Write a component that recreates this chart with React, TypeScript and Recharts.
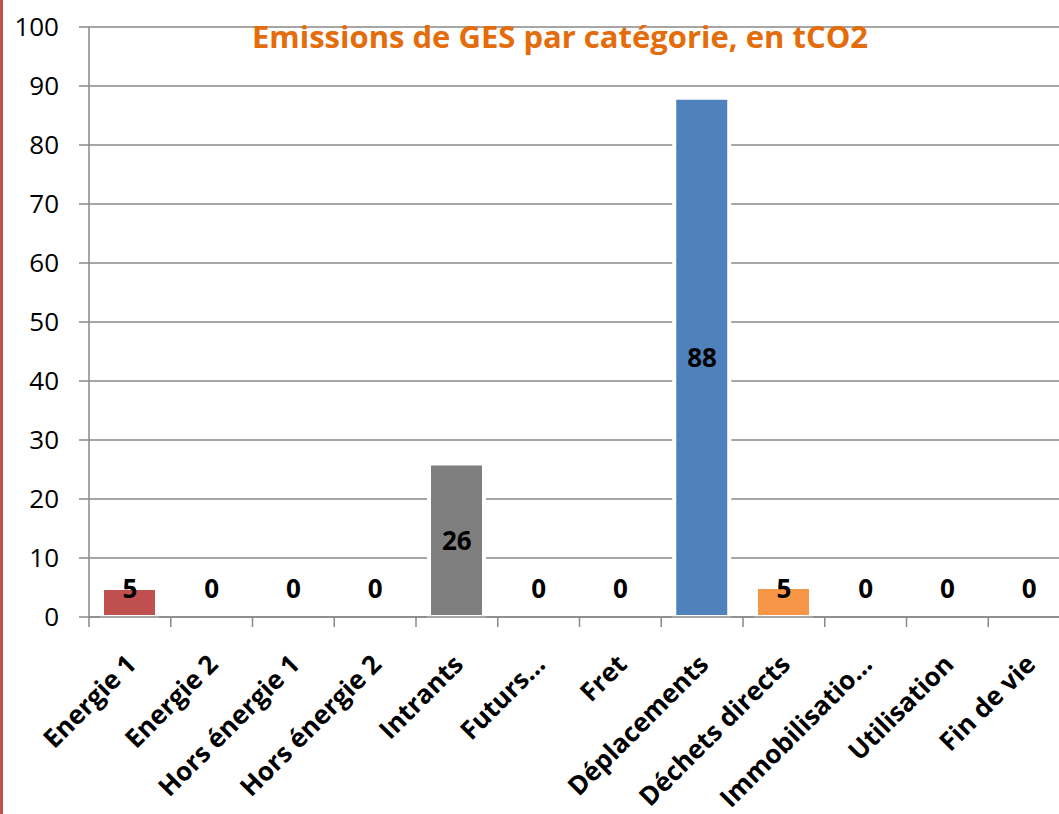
// GHG emissions by category bar chart

import { ComposedChart, Bar, Line, XAxis, YAxis, CartesianGrid, Cell, LabelList } from "recharts";

const categories = [
  "Energie 1",
  "Energie 2",
  "Hors énergie 1",
  "Hors énergie 2",
  "Intrants",
  "Futurs…",
  "Fret",
  "Déplacements",
  "Déchets directs",
  "Immobilisatio…",
  "Utilisation",
  "Fin de vie",
];
const emissions = [4.9, 0, 0, 0, 26.0, 0, 0, 88.0, 5.1, 0, 0, 0];
const barColors = [
  "#C0504D",
  "#9BBB59",
  "#8064A2",
  "#4BACC6",
  "#7F7F7F",
  "#C0504D",
  "#9BBB59",
  "#4F81BD",
  "#F79646",
  "#8064A2",
  "#4BACC6",
  "#F79646",
];
const yTicks = [0, 10, 20, 30, 40, 50, 60, 70, 80, 90, 100];

const data = categories.map((name, i) => ({ name, value: emissions[i] }));

const CHART_W = 1100;
const CHART_H = 814;
const MARGIN = { top: 27, right: 30, left: 0, bottom: 17 };
const Y_W = 89;
const X_H = 180;
const ZERO_Y = CHART_H - MARGIN.bottom - X_H;
const BAND = (CHART_W - MARGIN.left - MARGIN.right - Y_W) / categories.length;
const AXIS_COLOR = "#898989";
const FONT = "'Open Sans', sans-serif";

const CategoryTick = (props: any) => {
  const { x, y, payload, index } = props;
  const left = x - BAND / 2;
  const ax = x + 8;
  const ay = y + 49;
  return (
    <g>
      <line x1={left} y1={y} x2={left} y2={y + 10} stroke={AXIS_COLOR} strokeWidth={1.5} />
      {index === categories.length - 1 && (
        <line x1={left + BAND} y1={y} x2={left + BAND} y2={y + 10} stroke={AXIS_COLOR} strokeWidth={1.5} />
      )}
      <text
        x={ax}
        y={ay}
        textAnchor="end"
        transform={`rotate(-45, ${ax}, ${ay})`}
        fontFamily={FONT}
        fontWeight="bold"
        fontSize={26}
        fill="#000"
      >
        {payload.value}
      </text>
    </g>
  );
};

// labels sit at bar centre, pushed up above the axis for short bars
const ValueLabel = (props: any) => {
  const { x, y, value } = props;
  const cy = Math.min((y + ZERO_Y) / 2, ZERO_Y - 29);
  return (
    <text
      x={x}
      y={cy}
      textAnchor="middle"
      dominantBaseline="central"
      fontFamily={FONT}
      fontWeight="bold"
      fontSize={26}
      fill="#000"
    >
      {Math.round(value)}
    </text>
  );
};

const App = () => {
  return (
    <div
      style={{
        position: "absolute",
        left: 0,
        top: 0,
        width: 1059,
        height: 814,
        overflow: "hidden",
        background: "#fff",
      }}
    >
      <div
        style={{
          position: "absolute",
          left: 0,
          top: 0,
          width: 3,
          height: 814,
          background: "#C0504D",
        }}
      />
      <ComposedChart width={CHART_W} height={CHART_H} data={data} margin={MARGIN}>
        <CartesianGrid horizontal vertical={false} stroke={AXIS_COLOR} strokeWidth={1.5} />
        <XAxis
          dataKey="name"
          interval={0}
          height={X_H}
          tickSize={0}
          tickMargin={0}
          tickLine={false}
          axisLine={{ stroke: AXIS_COLOR, strokeWidth: 1.5 }}
          tick={<CategoryTick />}
        />
        <YAxis
          width={Y_W}
          domain={[0, 100]}
          ticks={yTicks}
          interval={0}
          tickSize={10}
          tickMargin={20}
          axisLine={{ stroke: AXIS_COLOR, strokeWidth: 1.5 }}
          tickLine={{ stroke: AXIS_COLOR, strokeWidth: 1.5 }}
          tick={{ fill: "#000", fontSize: 26, fontFamily: FONT }}
        />
        <Bar dataKey="value" barSize={55} stroke="#fff" strokeWidth={4} isAnimationActive={false}>
          {data.map((d, i) => (
            <Cell key={d.name} fill={barColors[i]} />
          ))}
        </Bar>
        <Line
          dataKey="value"
          stroke="none"
          dot={false}
          activeDot={false}
          legendType="none"
          isAnimationActive={false}
        >
          <LabelList dataKey="value" content={<ValueLabel />} />
        </Line>
      </ComposedChart>
      <div
        style={{
          position: "absolute",
          left: 0,
          width: 1120,
          top: 15,
          textAlign: "center",
          color: "#E46C0A",
          fontFamily: FONT,
          fontWeight: "bold",
          fontSize: 31,
          lineHeight: "42px",
        }}
      >
        Emissions de GES par catégorie, en tCO2
      </div>
    </div>
  );
};

export default App;
